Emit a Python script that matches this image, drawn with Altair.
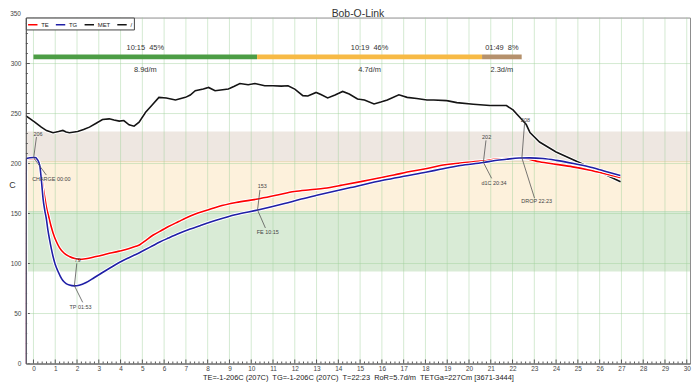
import altair as alt
import pandas as pd

TITLE = "Bob-O-Link"
Y_TITLE = "C"
STATUS = ("TE=-1-206C (207C)\u00a0 TG=-1-206C (207C)\u00a0 T=22:23\u00a0 "
          "RoR=5.7d/m\u00a0 TETGa=227Cm [3671-3444]")

SERIES = ["TE", "TG", "MET", "/"]
SERIES_COLORS = ["#ff0000", "#1f1fa6", "#141414", "#141414"]

# ---- curves (minutes, degrees C) ----
TE_T = [-0.356, -0.33, 0.0, 0.15, 0.25, 0.33, 0.44, 0.52, 0.59, 0.7,
        0.8, 0.9, 1.05, 1.2, 1.4, 1.65, 1.9, 2.11, 2.4, 2.87,
        3.4, 3.94, 4.4, 4.7, 4.9, 5.15, 5.5, 5.91, 6.2, 6.67,
        7.0, 7.43, 8.0, 8.5, 9.3, 10.3, 11.2, 11.98, 12.7, 13.36,
        14.2, 15.03, 15.8, 16.55, 17.16, 18.07, 18.68, 19.6, 20.66, 21.2,
        21.72, 22.2, 22.6, 23.24, 24.0, 24.76, 25.5, 26.2, 26.95]
TE_V = [-1, 204, 205, 204, 201, 193, 177, 166, 157, 147,
        138, 130.6, 122, 115.7, 110.5, 107, 105, 104.2, 104.8, 107,
        109.7, 112.4, 115, 117.2, 119, 123, 128.5, 133.5, 137, 142,
        145.5, 149.5, 153.5, 157, 161, 164.5, 168.5, 172, 173.8, 175.3,
        178.5, 181.9, 185.3, 188.5, 191.5, 195.1, 198, 200.5, 202.7, 204.2,
        205, 205.7, 205, 201.7, 199.2, 196.7, 193.5, 190, 186]

TG_T = [-0.356, -0.33, 0.0, 0.08, 0.18, 0.29, 0.37, 0.44, 0.52, 0.59,
        0.66, 0.74, 0.82, 0.9, 1.0, 1.12, 1.24, 1.35, 1.5, 1.65,
        1.88, 2.1, 2.42, 2.8, 3.17, 3.55, 3.94, 4.3, 4.7, 5.1,
        5.45, 5.8, 6.2, 6.67, 7.2, 7.73, 8.5, 9.26, 10.3, 11.53,
        12.3, 13.06, 14.57, 16.1, 17.16, 18.07, 18.68, 19.6, 20.66, 21.2,
        21.72, 22.3, 22.78, 23.4, 24.0, 24.8, 25.5, 26.2, 26.95]
TG_V = [-1, 205, 206, 206, 204, 198, 182, 165, 153, 145,
        134, 124, 115, 107, 99, 92.5, 87, 83, 80, 78.5,
        77.7, 78.3, 81, 86, 91, 96, 101, 105, 109, 113.5,
        117.5, 121.5, 125.5, 130, 134.5, 138.5, 144, 148.8, 153.5, 160,
        164.5, 168.5, 176, 183.5, 187.8, 191.5, 194.2, 198, 201, 203,
        204.3, 205.5, 205.7, 205, 203.2, 200, 196.7, 192.5, 188]

MET_T = [-0.36, -0.1, 0.06, 0.36, 0.6, 0.9, 1.15, 1.35, 1.5, 1.65,
         2.03, 2.3, 2.57, 2.9, 3.17, 3.48, 3.7, 3.94, 4.15, 4.39,
         4.62, 4.85, 5.15, 5.45, 5.76, 6.1, 6.52, 6.98, 7.2, 7.43,
         7.8, 8.04, 8.34, 8.6, 8.95, 9.2, 9.48, 9.86, 10.17, 10.62,
         11.0, 11.38, 11.69, 12.0, 12.37, 12.6, 12.98, 13.2, 13.51, 13.85,
         14.2, 14.5, 14.88, 15.2, 15.64, 15.95, 16.25, 16.78, 17.16, 17.6,
         18.07, 18.38, 18.98, 19.44, 20.2, 20.96, 21.72, 22.02, 22.33, 22.63,
         22.8, 23.24, 24.0, 24.76, 25.82, 26.96]
MET_V = [248, 244, 241.4, 236.4, 233, 230.8, 232, 233.1, 231.5, 230.8,
         232, 234, 236.4, 240.5, 244, 244.7, 243.5, 242.4, 243, 238.8,
         237.4, 241.4, 251.3, 258.5, 266.2, 265.5, 263.6, 266.2, 268.5, 272.8,
         274.5, 276.1, 272.8, 273.5, 274.5, 277, 280, 278.8, 280, 277.8,
         277.8, 277.4, 277.8, 274.5, 267.9, 267.5, 271.1, 269, 265.6, 268.5,
         272.1, 269.5, 264.6, 263.5, 259.6, 261.5, 263.6, 268.8, 266.2, 265,
         263.6, 263.6, 262.9, 260.9, 259.3, 258, 258, 253.6, 246.3, 239,
         231, 221.5, 211.6, 204, 193.5, 181.8]

# ---- phases ----
PHASE_START = [0.0, 10.27, 20.6]
PHASE_END = [10.27, 20.6, 22.42]
PHASE_TEXT = ["10:15\u00a0 45%", "10:19\u00a0 46%", "01:49\u00a0 8%"]
PHASE_ROR = ["8.9d/m", "4.7d/m", "2.3d/m"]
PHASE_COLORS = ["#4c9d45", "#f7ba45", "#b5916c"]
PHASE_BAR_V = 306.7
PHASE_TEXT_V = 315.8
PHASE_ROR_V = 293.7

# ---- background bands ----
BAND_LO = [92, 152, 202]
BAND_HI = [152, 202, 232]
BAND_COLORS = ["#d9ebd6", "#fdf1dc", "#eee7e1"]
EDGE_V = [152, 202]
EDGE_COLORS = ["#c8e0c2", "#eadbbd"]

# ---- events ----
EV_LABEL = ["CHARGE 00:00", "TP 01:53", "FE 10:15", "d1C 20:34", "DROP 22:23"]
EV_VALUE = ["206", "79", "153", "202", "208"]
EV_T = [0.01, 1.88, 10.29, 20.66, 22.43]
EV_V = [205.8, 77.8, 153.5, 201.2, 205.6]
VAL_T = [0.21, 2.02, 10.51, 20.81, 22.59]
VAL_V = [229.9, 103.2, 177.9, 226.5, 243.7]
LAB_T = [0.82, 2.16, 10.76, 21.15, 23.11]
LAB_V = [184.2, 56.8, 131.6, 180.9, 162.7]
C1_T = [0.137, 1.99, 10.40, 20.78, 22.55]
C1_V = [226.5, 100.2, 173.6, 223.2, 239.8]
C2_T = [0.59, 2.26, 10.65, 21.04, 23.01]
C2_V = [188.5, 61.2, 135.6, 185.2, 165.4]

X_MIN, X_MAX = -0.35, 30.15
Y_MIN, Y_MAX = 0, 346
X_LABELS = list(range(0, 31))
Y_LABELS = [0, 50, 100, 150, 200, 250, 300]
Y_TOP_LABEL = [350]
X_GRID = list(range(0, 31))
Y_GRID = [50, 100, 150, 200, 250, 300]
X_MINOR = [i / 5 for i in range(0, 151) if i % 5 != 0]
Y_MINOR = [v for v in range(10, 346, 10) if v % 50 != 0]

W, H = 670, 349

x_scale = alt.Scale(domain=[X_MIN, X_MAX], nice=False, zero=False)
y_scale = alt.Scale(domain=[Y_MIN, Y_MAX], nice=False, zero=False)

x_axis = alt.Axis(values=X_LABELS, ticks=False, grid=False, labelFontSize=6.5,
                  labelPadding=2, labelColor="#444", domainColor="#555",
                  labelFlush=False, labelOverlap=False, title=STATUS,
                  titleFontSize=7.5, titleFontWeight="normal", titleColor="#222",
                  titleY=16, titleBaseline="alphabetic", zindex=1)
y_axis = alt.Axis(values=Y_LABELS, ticks=False, grid=False, labelFontSize=6.5,
                  labelPadding=5, labelColor="#444", domainColor="#555",
                  labelFlush=False, labelOverlap=False, title=Y_TITLE,
                  titleAngle=0, titleX=-14, titleY=168, titleFontSize=9,
                  titleFontWeight="normal", titleColor="#333", titleAlign="center",
                  titleBaseline="middle", zindex=1)


def X(f):
    return alt.X(f, scale=x_scale, axis=x_axis)


def Y(f):
    return alt.Y(f, scale=y_scale, axis=y_axis)


color_scale = alt.Scale(domain=SERIES, range=SERIES_COLORS)
legend = alt.Legend(title=None, orient="none", legendX=0, legendY=0,
                    direction="horizontal", symbolType="stroke",
                    symbolStrokeWidth=1.5, symbolSize=90, labelFontSize=6,
                    labelColor="#222", labelOffset=3, columnPadding=3, padding=1.5,
                    strokeColor="#444", fillColor="white", labelLimit=60)

layers = []

bands = pd.DataFrame({"lo": BAND_LO, "hi": BAND_HI, "c": BAND_COLORS,
                      "x0": X_MIN, "x1": X_MAX})
layers.append(alt.Chart(bands).mark_rect().encode(
    x=X("x0:Q"), x2="x1:Q", y=Y("lo:Q"), y2="hi:Q",
    fill=alt.Fill("c:N", scale=None)))

edges = pd.DataFrame({"v": EDGE_V, "c": EDGE_COLORS, "x0": X_MIN, "x1": X_MAX})
layers.append(alt.Chart(edges).mark_rule(strokeWidth=1).encode(
    x=X("x0:Q"), x2="x1:Q", y=Y("v:Q"), stroke=alt.Stroke("c:N", scale=None)))

vgrid = pd.DataFrame({"t": X_GRID, "y0": Y_MIN, "y1": Y_MAX})
layers.append(alt.Chart(vgrid).mark_rule(color="#9fd09a", opacity=0.45, strokeWidth=1).encode(
    x=X("t:Q"), y=Y("y0:Q"), y2="y1:Q"))
hgrid = pd.DataFrame({"v": Y_GRID, "x0": X_MIN, "x1": X_MAX})
layers.append(alt.Chart(hgrid).mark_rule(color="#9fd09a", opacity=0.45, strokeWidth=1).encode(
    x=X("x0:Q"), x2="x1:Q", y=Y("v:Q")))

# inward ticks
for vals, size in [(X_LABELS, 8), (X_MINOR, 4)]:
    d = pd.DataFrame({"t": vals, "v": Y_MIN})
    layers.append(alt.Chart(d).mark_tick(orient="vertical", size=size, thickness=1,
                                         color="#555", clip=True, opacity=1).encode(
        x=X("t:Q"), y=Y("v:Q")))
for vals, size in [(Y_LABELS, 8), (Y_MINOR, 4)]:
    d = pd.DataFrame({"v": vals, "t": X_MIN})
    layers.append(alt.Chart(d).mark_tick(orient="horizontal", size=size, thickness=1,
                                         color="#555", clip=True, opacity=1).encode(
        x=X("t:Q"), y=Y("v:Q")))

# top tick label (sits just above the frame, as in the original)
layers.append(alt.Chart(pd.DataFrame({"v": Y_TOP_LABEL})).mark_text(
    fontSize=6.5, color="#444", align="right", baseline="middle").encode(
    y=Y("v:Q"), x=alt.value(-5), text=alt.Text("v:Q")))

# phase bar
phases = pd.DataFrame({"s": PHASE_START, "e": PHASE_END, "c": PHASE_COLORS,
                       "txt": PHASE_TEXT, "ror": PHASE_ROR, "v": PHASE_BAR_V,
                       "tv": PHASE_TEXT_V, "rv": PHASE_ROR_V})
phases["m"] = (phases["s"] + phases["e"]) / 2
layers.append(alt.Chart(phases).mark_rule(strokeWidth=5, strokeCap="butt").encode(
    x=X("s:Q"), x2="e:Q", y=Y("v:Q"), stroke=alt.Stroke("c:N", scale=None)))
layers.append(alt.Chart(phases).mark_text(fontSize=7.5, color="#333", baseline="middle").encode(
    x=X("m:Q"), y=Y("tv:Q"), text="txt:N"))
layers.append(alt.Chart(phases).mark_text(fontSize=7.5, color="#333", baseline="middle").encode(
    x=X("m:Q"), y=Y("rv:Q"), text="ror:N"))

# curves with white halo
for t, v, name, interp in [(MET_T, MET_V, "MET", "linear"),
                           (TE_T, TE_V, "TE", "monotone"),
                           (TG_T, TG_V, "TG", "monotone")]:
    d = pd.DataFrame({"t": t, "v": v, "series": name})
    layers.append(alt.Chart(d).mark_line(color="white", strokeWidth=3.6, clip=True,
                                         interpolate=interp).encode(
        x=X("t:Q"), y=Y("v:Q")))
    layers.append(alt.Chart(d).mark_line(strokeWidth=1.6, clip=True,
                                         interpolate=interp).encode(
        x=X("t:Q"), y=Y("v:Q"),
        color=alt.Color("series:N", scale=color_scale, legend=legend)))

# event annotations
segs = pd.DataFrame({
    "t1": C1_T + EV_T, "v1": C1_V + EV_V,
    "t2": EV_T + C2_T, "v2": EV_V + C2_V})
layers.append(alt.Chart(segs).mark_rule(color="#555", strokeWidth=0.8).encode(
    x=X("t1:Q"), y=Y("v1:Q"), x2="t2:Q", y2="v2:Q"))
ev = pd.DataFrame({"lab": EV_LABEL, "val": EV_VALUE, "vt": VAL_T, "vv": VAL_V,
                   "lt": LAB_T, "lv": LAB_V})
layers.append(alt.Chart(ev).mark_text(fontSize=5.5, color="#444", baseline="middle").encode(
    x=X("vt:Q"), y=Y("vv:Q"), text="val:N"))
layers.append(alt.Chart(ev).mark_text(fontSize=5.5, color="#444", baseline="middle").encode(
    x=X("lt:Q"), y=Y("lv:Q"), text="lab:N"))

# title
layers.append(alt.Chart(pd.DataFrame({"title": [TITLE]})).mark_text(
    fontSize=10.5, color="#333", baseline="alphabetic", align="center").encode(
    x=alt.value(W / 2), y=alt.value(-1), text="title:N"))

chart = alt.layer(*layers).properties(
    width=W, height=H,
    autosize=alt.AutoSizeParams(type="none"),
    padding={"left": 18, "top": 8, "right": 2, "bottom": 18},
).configure(font="Liberation Sans").configure_view(stroke="#8c8c8c", strokeWidth=1)

chart.save("out.html", embed_options={"renderer": "svg", "actions": False})
